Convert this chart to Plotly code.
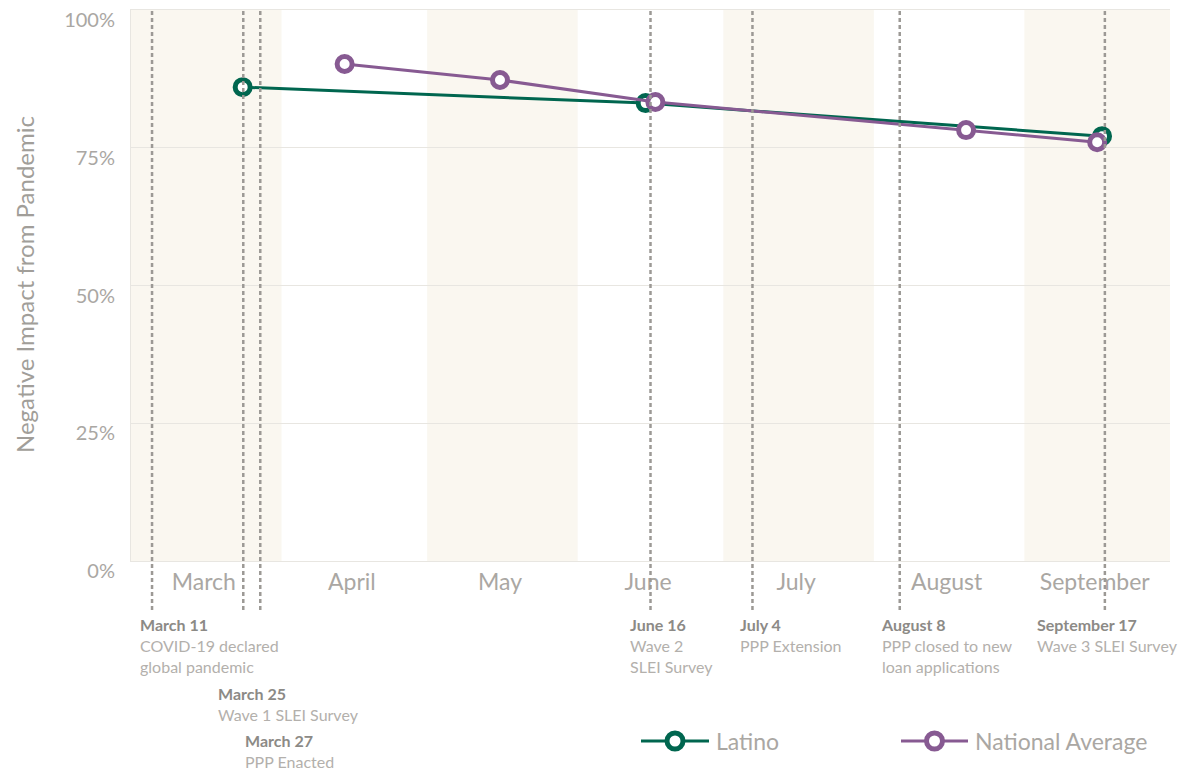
import plotly.graph_objects as go

# survey results (share reporting a negative impact, %)
latino_dates = ["2020-03-24", "2020-06-15", "2020-09-17"]
latino_vals = [86, 83.1, 77.1]

national_dates = ["2020-04-14", "2020-05-16", "2020-06-17", "2020-08-20", "2020-09-16"]
national_vals = [90.2, 87.3, 83.3, 78.2, 76]

# month bands / tick labels
month_starts = ["2020-03-01", "2020-04-01", "2020-05-01", "2020-06-01",
                "2020-07-01", "2020-08-01", "2020-09-01", "2020-10-01"]
month_mids = ["2020-03-16", "2020-04-15 12:00", "2020-05-16", "2020-06-15 12:00",
              "2020-07-16", "2020-08-16", "2020-09-15 12:00"]
month_names = ["March", "April", "May", "June", "July", "August", "September"]

y_ticks = [0, 25, 50, 75, 100]
y_labels = ["0%", "25%", "50%", "75%", "100%"]

# timeline events
event_dates = ["2020-03-05 08:00", "2020-03-24 03:00", "2020-03-27 15:00", "2020-06-16",
               "2020-07-07", "2020-08-06 08:00", "2020-09-17 14:00"]
event_titles = ["March 11", "March 25", "March 27", "June 16", "July 4", "August 8", "September 17"]
event_descs = ["COVID-19 declared<br>global pandemic", "Wave 1 SLEI Survey", "PPP Enacted",
               "Wave 2<br>SLEI Survey", "PPP Extension", "PPP closed to new<br>loan applications",
               "Wave 3 SLEI Survey"]

GREEN = "#00664f"
PURPLE = "#875a92"
BAND = "#faf7f0"
GRID = "#e8e6e1"
FONT = "Source Sans Pro, Lato, sans-serif"

L, R, T, B, W, H = 131, 8, 10, 212, 1178, 773
PW, PH = W - L - R, H - T - B


def px(x):
    return (x - L) / PW


def py(y):
    return (H - B - y) / PH


fig = go.Figure()

fig.add_trace(go.Scatter(
    x=latino_dates, y=latino_vals, name="Latino", mode="lines+markers",
    line=dict(color=GREEN, width=3),
    marker=dict(size=15, color="white", line=dict(color=GREEN, width=5)),
))
fig.add_trace(go.Scatter(
    x=national_dates, y=national_vals, name="National Average", mode="lines+markers",
    line=dict(color=PURPLE, width=3),
    marker=dict(size=15, color="white", line=dict(color=PURPLE, width=5)),
))

# alternating month bands
for i in range(0, len(month_starts) - 1, 2):
    fig.add_shape(type="rect", xref="x", yref="paper", x0=month_starts[i], x1=month_starts[i + 1],
                  y0=0, y1=1, fillcolor=BAND, line_width=0, layer="below")

# event lines + labels
label_shift = [-14, -27, -17, -23, -14, -21, -70]
label_top = [613, 682, 729, 613, 613, 613, 613]
for d, t, desc, sh, top in zip(event_dates, event_titles, event_descs, label_shift, label_top):
    fig.add_shape(type="line", xref="x", yref="paper", x0=d, x1=d, y0=py(610), y1=1,
                  line=dict(color="#9c9995", width=2.5, dash="4px,3px"), layer="above")
    fig.add_annotation(
        x=d, xref="x", y=py(top), yref="paper", xanchor="left", yanchor="top", xshift=sh,
        align="left", showarrow=False,
        text=f"<b><span style='color:#8c8a86'>{t}</span></b><br>{desc}",
        font=dict(family=FONT, size=16, color="#b3b0ac"),
    )

# y-axis title
fig.add_annotation(x=px(24), xref="paper", xanchor="center", y=py(285), yref="paper",
                   yanchor="middle", textangle=-90, showarrow=False,
                   text="Negative Impact from Pandemic",
                   font=dict(family=FONT, size=24, color="#a19e99"))

# custom legend
legend_items = [("Latino", GREEN, 641, 709), ("National Average", PURPLE, 901, 968)]
for name, col, x0, x1 in legend_items:
    fig.add_shape(type="line", xref="paper", yref="paper", x0=px(x0), x1=px(x1),
                  y0=py(741), y1=py(741), line=dict(color=col, width=3))
    fig.add_shape(type="circle", xref="paper", yref="paper", xsizemode="pixel", ysizemode="pixel",
                  xanchor=px((x0 + x1) / 2), yanchor=py(741), x0=-8, x1=8, y0=-8, y1=8,
                  fillcolor="white", line=dict(color=col, width=5))
    fig.add_annotation(x=px(x1 + 5), xref="paper", y=py(741), yref="paper", xanchor="left",
                       yanchor="middle", showarrow=False, text=name,
                       font=dict(family=FONT, size=23, color="#aaa7a3"))

fig.update_layout(
    width=W, height=H,
    margin=dict(l=L, r=R, t=T, b=B),
    plot_bgcolor="white", paper_bgcolor="white",
    showlegend=False,
    font=dict(family=FONT),
    xaxis=dict(
        type="date", range=[month_starts[0], month_starts[-1]],
        tickvals=month_mids, ticktext=month_names, ticks="",
        showgrid=False, zeroline=False,
        showline=True, linecolor=GRID, linewidth=1, mirror=True,
        tickfont=dict(size=23, color="#aaa7a3"), ticklabelstandoff=0,
    ),
    yaxis=dict(
        range=[0, 100], tickvals=y_ticks, ticktext=y_labels,
        showgrid=True, gridcolor=GRID, gridwidth=1, zeroline=False,
        showline=True, linecolor=GRID, linewidth=1,
        tickfont=dict(size=20, color="#aaa7a3"), ticklabelstandoff=11, ticklabelshift=10,
    ),
)

fig.write_html("out.html", config={"displayModeBar": False},
               post_script="document.body.style.margin='0';")
